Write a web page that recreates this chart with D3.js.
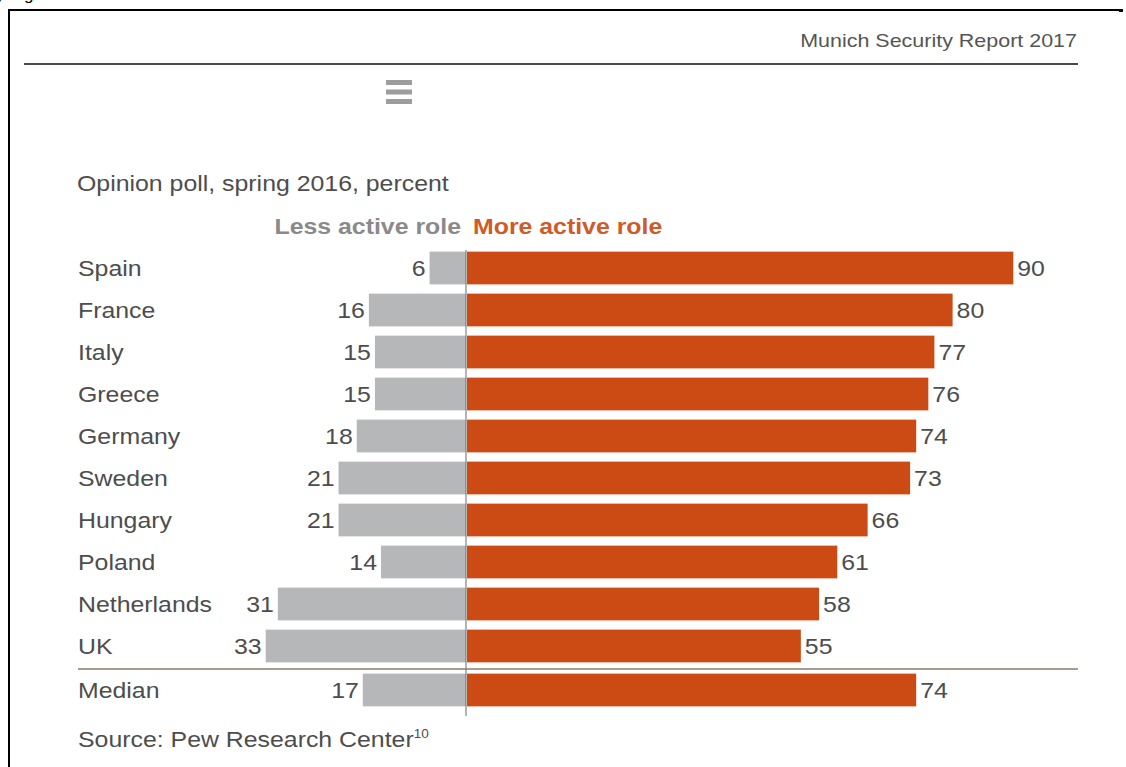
<!DOCTYPE html>
<html>
<head>
<meta charset="utf-8">
<script src="https://cdn.jsdelivr.net/npm/d3@7"></script>
<style>
  body { margin: 0; background: #fff; }
  svg text { font-family: "Liberation Sans", Arial, sans-serif; }
</style>
</head>
<body>
<div id="chart"></div>
<script>
'use strict'

// data
const countries = ['Spain', 'France', 'Italy', 'Greece', 'Germany', 'Sweden', 'Hungary', 'Poland', 'Netherlands', 'UK', 'Median']
const lessActive = [6, 16, 15, 15, 18, 21, 21, 14, 31, 33, 17]
const moreActive = [90, 80, 77, 76, 74, 73, 66, 61, 58, 55, 74]

const rows = countries.map((c, i) => ({ name: c, less: lessActive[i], more: moreActive[i] }))

const svgWidth = 1126
const svgHeight = 767
const center = 466
const stretch = 1.13 // the source picture is a bit wide

const grey = '#b5b7b9'
const orange = '#cc4a14'
const textCol = '#4d4d4d'

const svg = d3.select('#chart')
    .append('svg')
    .attr('width', svgWidth)
    .attr('height', svgHeight)

// put a text at x,y and widen it a little
function place(sel, xf, yf) {
    return sel.attr('transform', (d, i) => {
        const x = typeof xf === 'function' ? xf(d, i) : xf
        const y = typeof yf === 'function' ? yf(d, i) : yf
        return `translate(${x},${y}) scale(${stretch},1)`
    })
}

// frame edges (cropped page)
svg.append('path')
    .attr('d', 'M9,767 V10 H1122')
    .attr('fill', 'none')
    .attr('stroke', '#000')
    .attr('stroke-width', 2)
svg.append('rect').attr('x', 1119).attr('y', 9).attr('width', 4).attr('height', 3).attr('fill', '#000')

// bits of text cut off above the frame
svg.append('text').attr('x', -4).attr('y', 0).attr('font-size', 17).attr('fill', '#000').text('y')
svg.append('text').attr('x', 24).attr('y', 0).attr('font-size', 17).attr('fill', '#000').text('g')

// header
place(svg.append('text'), 1077, 47)
    .attr('text-anchor', 'end')
    .attr('font-size', 19)
    .attr('fill', '#555')
    .text('Munich Security Report 2017')

svg.append('line')
    .attr('x1', 24).attr('x2', 1078)
    .attr('y1', 64).attr('y2', 64)
    .attr('stroke', '#4a4a4a')
    .attr('stroke-width', 2)

// menu icon
svg.append('g').selectAll('rect')
    .data([0, 1, 2])
    .join('rect')
    .attr('x', 386).attr('width', 26)
    .attr('y', d => 80 + d * 9.5).attr('height', 5)
    .attr('fill', '#9d9d9d')

// subtitle + legend
place(svg.append('text'), 77, 191)
    .attr('font-size', 22)
    .attr('fill', textCol)
    .text('Opinion poll, spring 2016, percent')

place(svg.append('text'), 461, 234)
    .attr('text-anchor', 'end')
    .attr('font-size', 22).attr('font-weight', 'bold')
    .attr('fill', '#8a8a8a')
    .text('Less active role')

place(svg.append('text'), 473, 234)
    .attr('font-size', 22).attr('font-weight', 'bold')
    .attr('fill', '#cf5a2a')
    .text('More active role')

////////////// scales //////////////

const y = d3.scaleBand()
    .domain(countries)
    .range([247, 709])
    .paddingInner(0.22)
    .paddingOuter(0.11)

// medians sit a little lower, below the rule
const yPos = d => y(d.name) + (d.name === 'Median' ? 2 : 0)
const yMid = d => yPos(d) + y.bandwidth() / 2 + 7.5

const xRight = d3.scaleLinear().domain([0, 100]).range([center + 1, center + 608])
const xLeft = d3.scaleLinear().domain([0, 100]).range([center, center - 607])

////////////// bars //////////////

svg.selectAll('.less-bar')
    .data(rows)
    .join('rect')
    .attr('class', 'less-bar')
    .attr('x', d => xLeft(d.less))
    .attr('y', yPos)
    .attr('width', d => xLeft(0) - xLeft(d.less))
    .attr('height', y.bandwidth())
    .attr('fill', grey)

svg.selectAll('.more-bar')
    .data(rows)
    .join('rect')
    .attr('class', 'more-bar')
    .attr('x', xRight(0))
    .attr('y', yPos)
    .attr('width', d => xRight(d.more) - xRight(0))
    .attr('height', y.bandwidth())
    .attr('fill', orange)

// centre line
svg.append('line')
    .attr('x1', center).attr('x2', center)
    .attr('y1', 250).attr('y2', 716)
    .attr('stroke', '#6b6b6b')
    .attr('stroke-width', 1)

// rule above median
svg.append('line')
    .attr('x1', 78).attr('x2', 1078)
    .attr('y1', 669).attr('y2', 669)
    .attr('stroke', '#8a7b68')
    .attr('stroke-width', 1.5)

////////////// labels //////////////

place(svg.selectAll('.country')
    .data(rows)
    .join('text'), 78, yMid)
    .attr('class', 'country')
    .attr('font-size', 22)
    .attr('fill', textCol)
    .text(d => d.name)

place(svg.selectAll('.less-val')
    .data(rows)
    .join('text'), d => xLeft(d.less) - 4, yMid)
    .attr('class', 'less-val')
    .attr('text-anchor', 'end')
    .attr('font-size', 22)
    .attr('fill', textCol)
    .text(d => d.less)

place(svg.selectAll('.more-val')
    .data(rows)
    .join('text'), d => xRight(d.more) + 4, yMid)
    .attr('class', 'more-val')
    .attr('font-size', 22)
    .attr('fill', textCol)
    .text(d => d.more)

// source
const src = place(svg.append('text'), 78, 747)
    .attr('font-size', 22)
    .attr('fill', textCol)
    .text('Source: Pew Research Center')
src.append('tspan')
    .attr('font-size', 12)
    .attr('dy', -9)
    .text('10')
</script>
</body>
</html>
